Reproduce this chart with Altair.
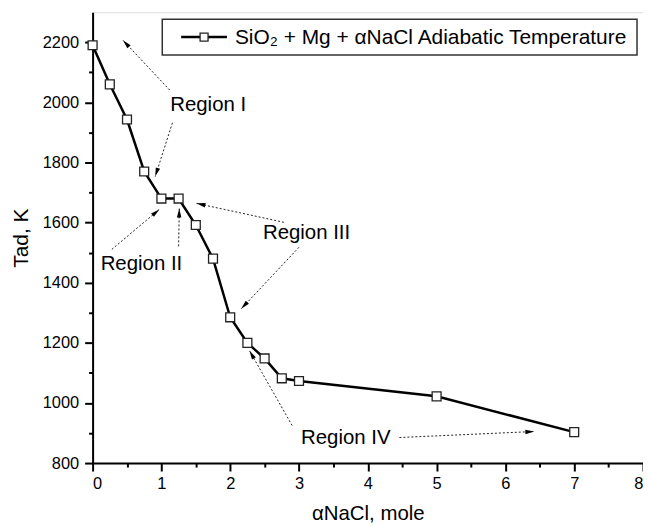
import math
import altair as alt
import pandas as pd

# ---- data ----
alpha = [0, 0.25, 0.5, 0.75, 1.0, 1.25, 1.5, 1.75, 2.0, 2.25, 2.5, 2.75, 3.0, 5.0, 7.0]
tad = [2190, 2060, 1943, 1770, 1680, 1680, 1592, 1480, 1285, 1200, 1148, 1082, 1073, 1022, 903]

region_labels = ["Region I", "Region II", "Region III", "Region IV"]
region_x = [1.68, 0.71, 3.11, 3.68]
region_y = [1991, 1462, 1564, 882]

arrow_tail_x = [1.12, 1.16, 0.28, 1.25, 2.78, 3.00, 2.90, 4.46]
arrow_tail_y = [2041, 1932, 1511, 1521, 1601, 1518, 925, 885]
arrow_head_x = [0.44, 0.91, 0.97, 1.26, 1.51, 2.16, 2.28, 6.42]
arrow_head_y = [2207, 1753, 1644, 1647, 1664, 1313, 1174, 905]

x_major = [0, 1, 2, 3, 4, 5, 6, 7, 8]
x_minor = [0.5, 1.5, 2.5, 3.5, 4.5, 5.5, 6.5, 7.5]
y_major = [800, 1000, 1200, 1400, 1600, 1800, 2000, 2200]
y_minor = [900, 1100, 1300, 1500, 1700, 1900, 2100]

legend_text = "SiO\u2082 + Mg + \u03b1NaCl Adiabatic Temperature"

# ---- layout ----
W, H = 553, 453
XMIN, XMAX, YMIN, YMAX = 0, 8, 800, 2300
XPX = W / (XMAX - XMIN)
YPX = H / (YMAX - YMIN)
FONT = "Liberation Sans"

df = pd.DataFrame({"a": alpha, "t": tad})
lab = pd.DataFrame({"label": region_labels, "x": region_x, "y": region_y})

rows = []
for tx, ty, hx, hy in zip(arrow_tail_x, arrow_tail_y, arrow_head_x, arrow_head_y):
    dx = (hx - tx) * XPX
    dy = -(hy - ty) * YPX
    L = math.hypot(dx, dy)
    ang = math.degrees(math.atan2(dx, -dy)) % 360
    back = 5.0
    cx = hx - (dx / L) * back / XPX
    cy = hy + (dy / L) * back / YPX
    rows.append({"tx": tx, "ty": ty, "hx": hx, "hy": hy, "cx": cx, "cy": cy, "ang": ang})
arr = pd.DataFrame(rows)

xs = alt.Scale(domain=[XMIN, XMAX], nice=False, zero=False)
ys = alt.Scale(domain=[YMIN, YMAX], nice=False, zero=False)

x_axis = alt.Axis(
    title="\u03b1NaCl, mole", values=x_major, format="d",
    tickSize=8, tickWidth=2, tickColor="black", domainColor="black", domainWidth=2,
    labelFont=FONT, labelFontSize=16.5, labelColor="black", labelPadding=5,
    titleFont=FONT, titleFontSize=20.5, titleFontWeight="normal", titleColor="black",
    titlePadding=11, grid=False, labelOverlap=False,
)
y_axis = alt.Axis(
    title="Tad, K", values=y_major, format="d",
    tickSize=8, tickWidth=2, tickColor="black", domainColor="black", domainWidth=2,
    labelFont=FONT, labelFontSize=16.5, labelColor="black", labelPadding=6,
    titleFont=FONT, titleFontSize=21, titleFontWeight="normal", titleColor="black",
    titlePadding=11, grid=False, labelOverlap=False,
)
x_minor_axis = alt.Axis(orient="bottom", values=x_minor, labels=False, domain=False,
                        title=None, tickSize=4, tickWidth=2, tickColor="black", grid=False)
y_minor_axis = alt.Axis(orient="left", values=y_minor, labels=False, domain=False,
                        title=None, tickSize=4, tickWidth=2, tickColor="black", grid=False)

base = alt.Chart(df)
line = base.mark_line(color="black", strokeWidth=2.5).encode(
    x=alt.X("a:Q", scale=xs, axis=x_axis),
    y=alt.Y("t:Q", scale=ys, axis=y_axis),
)
pts = base.mark_point(shape="square", size=80, filled=True, fill="white",
                      stroke="#222", strokeWidth=1.3, opacity=1).encode(
    x=alt.X("a:Q", scale=xs, axis=x_minor_axis),
    y=alt.Y("t:Q", scale=ys, axis=y_minor_axis),
)

arrows = alt.Chart(arr).mark_rule(color="#222", strokeWidth=1, strokeDash=[2, 2]).encode(
    x=alt.X("tx:Q", scale=xs, axis=None), y=alt.Y("ty:Q", scale=ys, axis=None),
    x2="hx:Q", y2="hy:Q",
)
heads = alt.Chart(arr).mark_point(shape="M0,-1L0.45,0.8L-0.45,0.8Z", size=100, filled=True,
                                  color="black", opacity=1).encode(
    x=alt.X("cx:Q", scale=xs, axis=None), y=alt.Y("cy:Q", scale=ys, axis=None),
    angle=alt.Angle("ang:Q", scale=None),
)
labels = alt.Chart(lab).mark_text(font=FONT, fontSize=20.5, color="black",
                                  align="center", baseline="middle").encode(
    x=alt.X("x:Q", scale=xs, axis=None), y=alt.Y("y:Q", scale=ys, axis=None), text="label:N"
)

# legend box (pixel positions within the plot area)
leg_df = pd.DataFrame({"text": [legend_text]})
leg_box = alt.Chart(leg_df).mark_rect(fill="white", stroke="#333", strokeWidth=1.5).encode(
    x=alt.value(70), x2=alt.value(547), y=alt.value(7), y2=alt.value(43)
)
leg_line = alt.Chart(leg_df).mark_rule(color="black", strokeWidth=2.5).encode(
    x=alt.value(89), x2=alt.value(135), y=alt.value(25)
)
leg_pt = alt.Chart(leg_df).mark_point(shape="square", size=64, filled=True, fill="white",
                                      stroke="#222", strokeWidth=1.3, opacity=1).encode(
    x=alt.value(112), y=alt.value(25)
)
leg_txt = alt.Chart(leg_df).mark_text(font=FONT, fontSize=21, color="black",
                                      align="left", baseline="middle").encode(
    x=alt.value(143), y=alt.value(26), text="text:N"
)

chart = alt.layer(line, pts, arrows, heads, labels, leg_box, leg_line, leg_pt, leg_txt).resolve_axis(
    x="independent", y="independent"
).properties(
    width=W, height=H,
    autosize=alt.AutoSizeParams(type="none"),
    padding={"left": 85, "top": 3, "right": 0, "bottom": 60},
).configure_view(stroke="black", strokeWidth=2).configure(background="white")

chart.save("out.html", embed_options={"renderer": "svg", "actions": False})
